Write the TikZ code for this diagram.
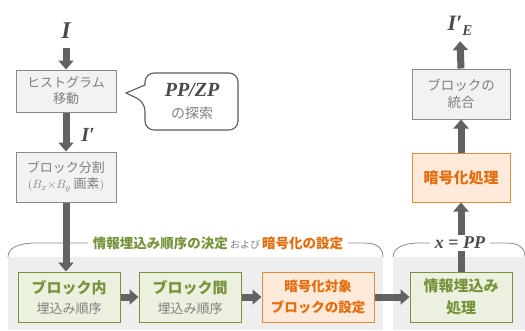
\documentclass[tikz,border=0pt]{standalone}
\usepackage{fontspec}
\setmainfont{Noto Sans CJK JP}
\newfontfamily\lserif{Liberation Serif}
\usetikzlibrary{arrows.meta}
\definecolor{arrowgray}{HTML}{626262}
\definecolor{boxgray}{HTML}{F2F2F2}
\definecolor{bordergray}{HTML}{8A8A8A}
\definecolor{textgray}{HTML}{7F7F7F}
\definecolor{panelgray}{HTML}{EEEEEE}
\definecolor{grn}{HTML}{77933C}
\definecolor{grnfill}{HTML}{EBF1DE}
\definecolor{org}{HTML}{E46C0A}
\definecolor{orgfill}{HTML}{FDEADA}
\definecolor{dark}{HTML}{4A4A4A}
\tikzset{
  graybox/.style={draw=bordergray, fill=boxgray, text=textgray, line width=1pt,
    inner sep=0pt, align=center, font=\fontsize{13}{16}\selectfont},
  greenbox/.style={draw=grn, fill=grnfill, line width=1pt, inner sep=0pt, align=center},
  orangebox/.style={draw=org!80, fill=orgfill, text=org, line width=1pt, inner sep=0pt, align=center},
  bigarrow/.style={draw=arrowgray, line width=7pt, -{Triangle[width=15pt,length=9pt]}},
  bracket/.style={draw=bordergray, line width=0.8pt},
  mathlbl/.style={text=dark, font=\lserif\bfseries\itshape},
}
\begin{document}
\begin{tikzpicture}[x=1pt,y=-1pt]
\useasboundingbox (0,0) rectangle (525,330);
% panels
\fill[panelgray] (8,257) rectangle (383,330);
\fill[panelgray] (393,257) rectangle (525,330);
% brackets
\draw[bracket] (8,257) .. controls (8,248) and (18,243) .. (36,243) -- (364,243) .. controls (377,243) and (383,248) .. (383,257);
\draw[bracket] (393,257) .. controls (393,248) and (403,243) .. (420,243) -- (506,243) .. controls (519,243) and (525,248) .. (525,257);

% nodes
\node[mathlbl, font=\lserif\bfseries\itshape\fontsize{24}{24}\selectfont, anchor=base, inner xsep=0pt, inner ysep=10pt] (I) at (66,38) {I};
\node[graybox, minimum width=100pt, minimum height=42pt] (hist) at (66,91) {ヒストグラム\\移動};
\node[graybox, minimum width=100pt, minimum height=50pt] (split) at (66,177) {ブロック分割\\$(B_x{\times}B_y$ 画素$)$};
\node[greenbox, minimum width=102pt, minimum height=50pt, font=\fontsize{13}{20}\selectfont] (bin) at (69,297)
  {{\color{grn}\bfseries\fontsize{15}{18}\selectfont ブロック内}\\{\color{textgray}埋込み順序}};
\node[greenbox, minimum width=102pt, minimum height=50pt, font=\fontsize{13}{20}\selectfont] (bout) at (190,297)
  {{\color{grn}\bfseries\fontsize{15}{18}\selectfont ブロック間}\\{\color{textgray}埋込み順序}};
\node[orangebox, minimum width=112pt, minimum height=50pt, font=\bfseries\fontsize{13.5}{21}\selectfont] (eset) at (318,297) {暗号化対象\\ブロックの設定};
\node[greenbox, minimum width=102pt, minimum height=50pt, text=grn, font=\bfseries\fontsize{15}{22}\selectfont] (emb) at (461,297) {情報埋込み\\処理};
\node[orangebox, minimum width=98pt, minimum height=49pt, font=\bfseries\fontsize{15}{18}\selectfont] (enc) at (461,177.5) {暗号化処理};
\node[graybox, minimum width=98pt, minimum height=50pt, font=\fontsize{13.5}{17}\selectfont] (merge) at (461,94) {ブロックの\\統合};
\node[mathlbl, font=\lserif\bfseries\itshape\fontsize{22}{22}\selectfont, anchor=base, inner xsep=0pt, inner ysep=6pt] (IE) at (460,30) {I′\raisebox{-5pt}{\fontsize{15}{15}\selectfont E}};

% callout
\draw[draw=dark!90, line width=1.1pt, fill=white, rounded corners=9pt] (145,102) [sharp corners] -- (126,93) -- (145,85) [rounded corners=9pt] -- (145,73) -- (238,73) -- (238,130) -- (145,130) -- cycle;
\node[align=center, inner sep=0pt, font=\fontsize{14}{22}\selectfont] (search) at (192,101)
  {{\lserif\bfseries\itshape\fontsize{20}{20}\selectfont\color{dark} PP/ZP}\\{\color{textgray}の探索}};

% arrows
\draw[bigarrow] (I.south) -- (hist.north);
\draw[bigarrow] (hist.south) -- (split.north);
\node[mathlbl, font=\lserif\bfseries\itshape\fontsize{20}{20}\selectfont] (Ip) at (88,135) {I′};
\draw[bigarrow] (split.south) -- (split.south |- bin.north);
\draw[bigarrow] (bin.east) -- (bout.west);
\draw[bigarrow] (bout.east) -- (eset.west);
\draw[bigarrow] (eset.east) -- (emb.west);
\draw[bigarrow] (emb.north) -- (enc.south);
\draw[bigarrow] (enc.north) -- (merge.south);
\draw[bigarrow] (merge.north) -- (IE.south);

% bracket labels
\node[fill=white, inner xsep=5pt, inner ysep=2pt] (lbl1) at (218,243)
  {{\color{grn}\bfseries\fontsize{13.5}{15}\selectfont 情報埋込み順序の決定} {\color{textgray}\fontsize{10}{12}\selectfont および} {\color{org}\bfseries\fontsize{13.5}{15}\selectfont 暗号化の設定}};
\node[fill=white, inner xsep=5pt, inner ysep=2pt, text=dark, font=\lserif\bfseries\itshape\fontsize{18}{18}\selectfont] (lbl2) at (460,243) {x {\upshape=} PP};
\end{tikzpicture}
\end{document}
